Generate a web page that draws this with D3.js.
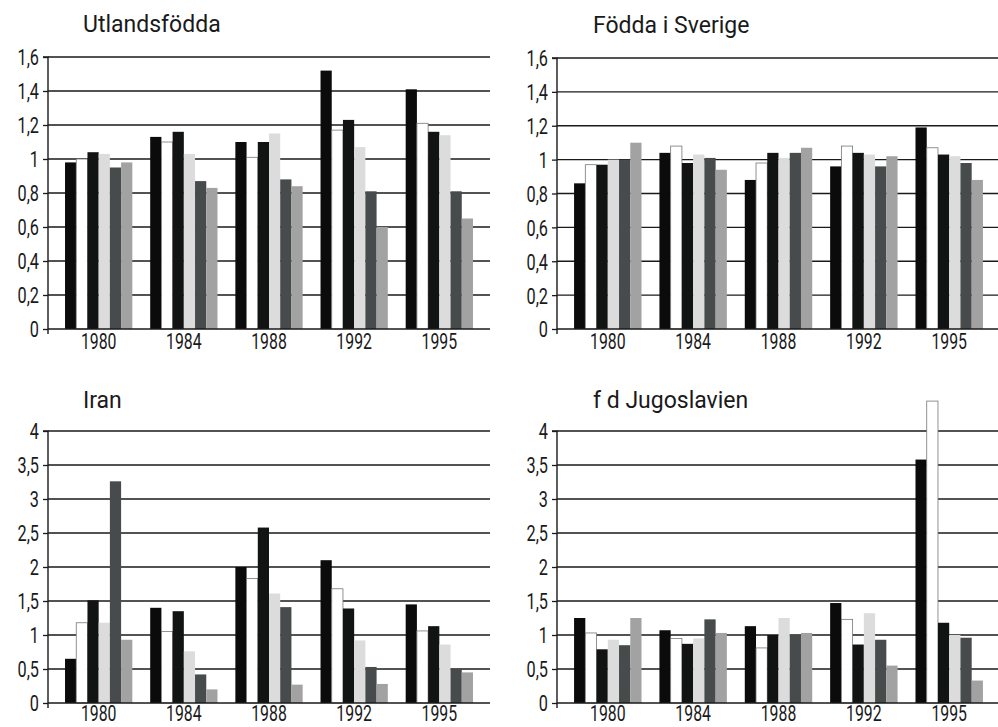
<!DOCTYPE html>
<html><head><meta charset="utf-8">
<script src="https://cdn.jsdelivr.net/npm/d3@7"></script>
<style>
body{margin:0;background:#fff;}
text{font-family:Roboto,"Liberation Sans",sans-serif;fill:#1a1a1a;}
</style></head>
<body><svg id="c" width="998" height="727"></svg>
<script>
const years = ["1980","1984","1988","1992","1995"];
const seriesNames = ["s1","s2","s3","s4","s5","s6"];
const seriesColors = ["#0b0b0b","#ffffff","#121414","#dcdcdc","#474b4b","#a2a2a2"];
const titles = ["Utlandsfödda","Födda i Sverige","Iran","f d Jugoslavien"];
const ticksTop = [0,0.2,0.4,0.6,0.8,1,1.2,1.4,1.6];
const ticksBottom = [0,0.5,1,1.5,2,2.5,3,3.5,4];
// values per year group, 6 series each
const utlandsfodda = [
  [0.98,1.00,1.04,1.03,0.95,0.98],
  [1.13,1.10,1.16,1.03,0.87,0.83],
  [1.10,1.01,1.10,1.15,0.88,0.84],
  [1.52,1.17,1.23,1.07,0.81,0.60],
  [1.41,1.21,1.16,1.14,0.81,0.65]
];
const foddaISverige = [
  [0.86,0.97,0.97,1.00,1.00,1.10],
  [1.04,1.08,0.98,1.03,1.01,0.94],
  [0.88,0.98,1.04,1.01,1.04,1.07],
  [0.96,1.08,1.04,1.03,0.96,1.02],
  [1.19,1.07,1.03,1.02,0.98,0.88]
];
const iran = [
  [0.65,1.18,1.51,1.18,3.26,0.93],
  [1.40,1.05,1.35,0.76,0.42,0.20],
  [2.00,1.83,2.58,1.61,1.41,0.27],
  [2.10,1.68,1.39,0.92,0.53,0.28],
  [1.45,1.06,1.13,0.86,0.50,0.45]
];
const jugoslavien = [
  [1.25,1.03,0.79,0.93,0.85,1.25],
  [1.07,0.95,0.87,0.95,1.23,1.03],
  [1.13,0.81,1.00,1.25,1.00,1.03],
  [1.47,1.23,0.86,1.32,0.93,0.55],
  [3.58,4.44,1.18,1.00,0.96,0.33]
];

const svg = d3.select("#c");
const fmt = d => String(d).replace(".", ",");

const panels = [
  {title:titles[0], data:utlandsfodda, ticks:ticksTop, max:1.6, x0:48, x1:490, y0:57, y1:329, tx:83, ty:32, ly:20},
  {title:titles[1], data:foddaISverige, ticks:ticksTop, max:1.6, x0:557, x1:1000, y0:58, y1:329, tx:593, ty:33, ly:20},
  {title:titles[2], data:iran, ticks:ticksBottom, max:4, x0:48, x1:490, y0:431, y1:703, tx:83, ty:408, ly:18},
  {title:titles[3], data:jugoslavien, ticks:ticksBottom, max:4, x0:557, x1:1000, y0:431, y1:703, tx:593, ty:408, ly:18}
];

panels.forEach(p => {
  const g = svg.append("g");
  const y = d3.scaleLinear().domain([0,p.max]).range([p.y1,p.y0]);
  const x = d3.scaleBand().domain(years).range([p.x0,p.x1]).paddingInner(0.21).paddingOuter(0.2);
  const xs = d3.scaleBand().domain(seriesNames).range([0,x.bandwidth()]);
  const color = d3.scaleOrdinal().domain(seriesNames).range(seriesColors);

  // grid lines
  g.selectAll("line.grid").data(p.ticks.filter(t=>t>0)).join("line")
    .attr("x1",p.x0).attr("x2",p.x1).attr("y1",d=>y(d)).attr("y2",d=>y(d))
    .attr("stroke","#1a1a1a").attr("stroke-width",1.3);

  // bars
  years.forEach((yr,i) => {
    g.selectAll(null).data(p.data[i].map((v,j)=>({v, s:seriesNames[j]}))).join("rect")
      .attr("x",d=>x(yr)+xs(d.s))
      .attr("width",xs.bandwidth())
      .attr("y",d=>y(d.v))
      .attr("height",d=>y(0)-y(d.v))
      .attr("fill",d=>color(d.s))
      .attr("stroke",d=>d.s==="s2"?"#777":"none")
      .attr("stroke-width",0.8);
  });

  // y axis
  const ya = d3.axisLeft(y).tickValues(p.ticks).tickFormat(fmt).tickSize(5).tickPadding(3);
  const yg = g.append("g").attr("transform",`translate(${p.x0},0)`).call(ya);
  yg.select(".domain").attr("stroke","#1a1a1a").attr("stroke-width",1.4).attr("d",`M-5,${p.y0}H0V${p.y1+5}`);
  yg.selectAll(".tick line").attr("stroke","#1a1a1a").attr("stroke-width",1.3);
  yg.selectAll(".tick text").attr("font-size",22).attr("fill","#1a1a1a")
    .attr("x",0).attr("dy","0.36em")
    .attr("transform","translate(-9,0) scale(0.74,1)");

  // x axis
  const xa = d3.axisBottom(x).tickSize(0).tickPadding(5);
  const xg = g.append("g").attr("transform",`translate(0,${p.y1})`).call(xa);
  xg.select(".domain").attr("stroke","#1a1a1a").attr("stroke-width",1.4).attr("d",`M${p.x0},0H${p.x1}`);
  xg.selectAll(".tick text").attr("font-size",22).attr("fill","#1a1a1a")
    .attr("y",p.ly).attr("dy",0)
    .attr("transform","scale(0.72,1)");

  // title
  g.append("text").attr("x",p.tx).attr("y",p.ty).attr("font-size",23).text(p.title);
});
</script></body></html>
